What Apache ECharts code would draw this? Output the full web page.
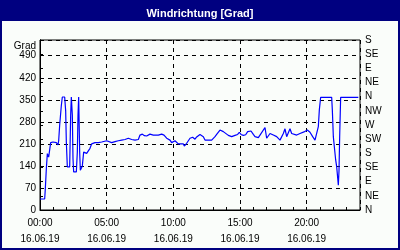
<!DOCTYPE html>
<html>
<head>
<meta charset="utf-8">
<script src="https://cdn.jsdelivr.net/npm/echarts@6/dist/echarts.min.js"></script>
<style>
html,body{margin:0;padding:0;background:#000080;}
#chart{width:400px;height:250px;}
</style>
</head>
<body>
<div id="chart"></div>
<script>
var titleText = 'Windrichtung [Grad]';
var dateText = '16.06.19';
var yName = 'Grad';
var compass = ['N','NE','E','SE','S','SW','W','NW'];

var hours = [0.0,0.35,0.4,0.475,0.55,0.65,0.725,0.8,0.975,1.225,1.35,1.4,1.475,1.6,1.675,1.85,1.925,1.975,2.05,2.225,2.3,2.35,2.425,2.475,2.525,2.725,2.8,2.85,2.9,2.975,3.025,3.1,3.175,3.275,
 3.375,3.5,3.625,3.75,3.875,4.125,4.375,4.625,4.75,5.0,5.125,5.375,5.625,5.875,6.125,6.375,6.625,6.875,7.125,7.375,7.5,7.675,7.833,
 8.0,8.25,8.375,8.5,8.625,8.875,9.125,9.3,9.5,9.625,9.75,9.875,10.0,10.125,10.25,10.375,10.5,10.75,10.825,11.0,11.125,11.25,11.45,
 11.625,11.75,11.875,12.0,12.125,12.25,12.375,12.5,12.625,12.75,12.875,13.0,13.125,13.25,13.375,13.5,13.625,13.75,13.875,14.125,14.375,14.625,14.825,14.95,15.075,15.25,15.425,15.575,15.7,15.825,16.0,
 16.125,16.375,16.5,16.875,17.0,17.25,17.5,17.75,18.0,18.25,18.375,18.5,18.75,18.875,19.0,19.25,19.5,
 19.8,20.05,20.25,20.45,20.625,20.75,20.875,20.95,21.05,21.875,21.925,22.0,22.075,22.175,22.25,22.325,22.375,22.425,22.475,22.525,22.55,23.875];

var values = [35,35,68,131,179,168,174,214,216,214,207,220,269,332,359,359,315,216,137,137,301,359,301,163,121,121,184,301,359,184,126,128,140,184,
 185,180,185,196,210,214,214,216,217,220,217,214,217,220,222,224,228,224,222,224,238,241,236,
 235,241,246,238,235,238,241,238,228,232,222,214,210,220,224,210,212,210,203,212,217,228,231,
 225,232,226,240,243,233,222,216,222,216,222,228,233,240,243,254,257,249,244,237,233,237,240,247,240,237,239,249,254,251,240,
 233,230,238,262,228,243,238,233,222,243,258,233,258,243,238,238,243,
 248,254,247,233,222,226,265,318,358,358,318,233,201,159,138,135,79,124,233,318,358,358];

var xLabelHours = [0,5,10,15,20];

var data = hours.map(function(h,i){return [h, values[i]];});
function pad(n){return (n<10?'0':'')+n;}

var chart = echarts.init(document.getElementById('chart'), null, {renderer:'canvas'});
var font = 'Liberation Sans';
chart.setOption({
  animation:false,
  backgroundColor:'#000080',
  textStyle:{fontFamily:font},
  title:{text:titleText,left:'center',top:3,textStyle:{color:'#ffffff',fontSize:11,fontWeight:'bold',fontFamily:font}},
  graphic:[{type:'rect',z:-10,silent:true,shape:{x:2,y:21,width:396,height:227},style:{fill:'#fafdfa'}}],
  grid:{left:40,right:40,top:40,bottom:40,show:true,borderColor:'#000',borderWidth:1,backgroundColor:'transparent'},
  xAxis:[{
    type:'value',min:0,max:24,interval:5,position:'bottom',
    axisLine:{show:true,lineStyle:{color:'#000',width:1}},
    axisTick:{show:false},
    splitLine:{show:true,lineStyle:{color:'#000',type:[4,4],width:1}},
    axisLabel:{color:'#000',fontSize:10,lineHeight:16,margin:5,showMaxLabel:false,
      formatter:function(v){return xLabelHours.indexOf(v)>=0 ? pad(v)+':00\n'+dateText : '';}}
  },{
    type:'value',min:0,max:24,interval:1,position:'bottom',
    axisLine:{show:false},
    axisTick:{show:true,inside:true,length:3,lineStyle:{color:'#000'}},
    axisLabel:{show:false},splitLine:{show:false}
  }],
  yAxis:[{
    type:'value',min:0,max:540,interval:70,position:'left',
    name:yName,nameLocation:'end',nameGap:-2,
    nameTextStyle:{color:'#000',fontSize:10,align:'right',verticalAlign:'top',padding:[0,4,0,0]},
    axisLine:{show:true,lineStyle:{color:'#000'}},
    axisTick:{show:false},
    splitLine:{show:true,lineStyle:{color:'#000',type:[4,4],width:1}},
    axisLabel:{color:'#000',fontSize:10,margin:4,
      formatter:function(v){return (v%70===0 && v<=490)? String(v):'';}}
  },{
    type:'value',min:0,max:540,interval:45,position:'right',
    axisLine:{show:true,lineStyle:{color:'#000'}},
    axisTick:{show:true,length:3,lineStyle:{color:'#000'}},
    splitLine:{show:false},
    axisLabel:{color:'#000',fontSize:10,margin:5,
      formatter:function(v){return compass[Math.round((v%360)/45)%8];}}
  }],
  series:[{
    type:'line',xAxisIndex:0,yAxisIndex:0,data:data,
    showSymbol:false,symbol:'none',smooth:false,
    lineStyle:{color:'#0000ff',width:1.2},
    clip:true
  }]
});
</script>
</body>
</html>
